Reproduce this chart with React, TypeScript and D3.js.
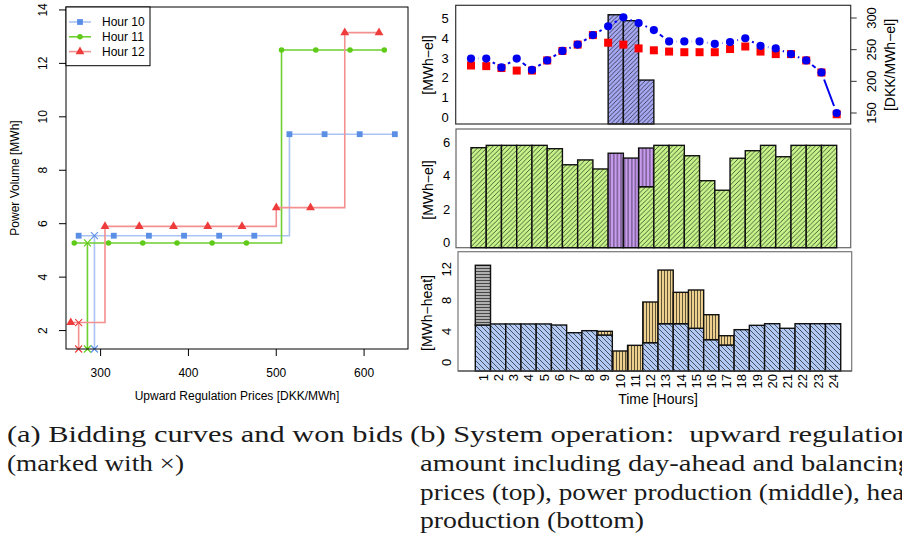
import React, { useEffect, useRef } from 'react';
import * as d3 from 'd3';

// ---------- (a) bidding curves: price [DKK/MWh] vs volume [MWh]
const bidNames = ['Hour 10', 'Hour 11', 'Hour 12'];
const bidColors = ['#5b8fe6', '#5fcb18', '#ee3b3b'];
const bidLineColors = ['#a9c4f4', '#6fd030', '#f49090'];
const h10Price = [275, 315, 355, 395, 435, 475, 515, 555, 595, 635];
const h10Volume = [5.55, 5.55, 5.55, 5.55, 5.55, 5.55, 9.35, 9.35, 9.35, 9.35];
const h11Price = [270, 309, 348, 387, 427, 466, 506, 545, 584, 623];
const h11Volume = [5.28, 5.28, 5.28, 5.28, 5.28, 5.28, 12.5, 12.5, 12.5, 12.5];
const h12Price = [266, 305, 344, 383, 422, 461, 500, 539, 578, 617];
const h12Volume = [2.3, 5.9, 5.9, 5.9, 5.9, 5.9, 6.6, 6.6, 13.15, 13.15];
const wonPrice = [293, 285, 275];
const wonVolume = [5.55, 5.28, 2.3];
const priceTicks = [300, 400, 500, 600];
const volumeTicks = [2, 4, 6, 8, 10, 12, 14];

// ---------- (b) system operation, hours 1..24
const hours = d3.range(1, 25);
// upward regulation amount [MWh-el]
const upReg = [0, 0, 0, 0, 0, 0, 0, 0, 0, 5.18, 4.88, 1.88, 0, 0, 0, 0, 0, 0, 0, 0, 0, 0, 0, 0];
// prices at hour boundaries 0..24 [DKK/MWh-el]
const balancingPrice = [236, 236, 222, 236, 218, 233, 248, 258, 273, 287, 301, 292, 281, 263, 263, 263, 259, 262, 268, 256, 252, 243, 233, 214, 150];
const dayAheadPrice = [225, 224, 221, 217, 217, 233, 248, 258, 273, 261, 258, 252, 249, 247, 246, 246, 246, 251, 255, 247, 243, 243, 233, 214, 148];
const topTicks = [0, 1, 2, 3, 4, 5];
const priceAxisTicks = [150, 200, 250, 300];
// power production [MWh-el]
const powerDayAhead = [5.66, 5.8, 5.8, 5.8, 5.8, 5.6, 4.64, 4.93, 4.39, 0, 0, 3.33, 5.8, 5.8, 5.18, 3.69, 3.12, 5.03, 5.48, 5.8, 5.12, 5.8, 5.8, 5.8];
const powerUpward = [0, 0, 0, 0, 0, 0, 0, 0, 0, 5.33, 5.04, 2.31, 0, 0, 0, 0, 0, 0, 0, 0, 0, 0, 0, 0];
const midTicks = [0, 2, 4, 6];
// heat production [MWh-heat]
const heatChp = [4.81, 4.95, 4.95, 4.95, 4.95, 4.81, 3.82, 4.08, 3.52, 0, 0, 2.53, 4.98, 4.98, 4.39, 2.92, 2.23, 4.21, 4.77, 4.98, 4.39, 4.98, 4.98, 4.98];
const heatBoiler = [0, 0, 0, 0, 0, 0, 0, 0, 0.48, 1.46, 2.19, 5.25, 6.92, 4.05, 4.94, 3.22, 1.2, 0, 0, 0, 0, 0, 0, 0];
const heatStorage = [7.71, 0, 0, 0, 0, 0, 0, 0, 0, 0, 0, 0, 0, 0, 0, 0, 0, 0, 0, 0, 0, 0, 0, 0];
const botTicks = [0, 4, 8, 12];

// ---------- captions
const captionA = ['(a) Bidding curves and won bids', '(marked with \u00d7)'];
const captionB = [
  '(b) System operation:  upward regulation',
  'amount including day-ahead and balancing',
  'prices (top), power production (middle), heat',
  'production (bottom)',
];

const SANS = "'Liberation Sans', Arial, sans-serif";
const SERIF = "'Liberation Serif', 'Times New Roman', serif";

const App: React.FC = () => {
  const svgRef = useRef<SVGSVGElement>(null);

  useEffect(() => {
    if (!svgRef.current) return;
    const svg = d3.select(svgRef.current);
    svg.selectAll('*').remove();

    // hatch patterns
    const defs = svg.append('defs');
    function pattern(id: string, bg: string, kind: string, s: number) {
      const p = defs.append('pattern').attr('id', id).attr('patternUnits', 'userSpaceOnUse')
        .attr('width', s).attr('height', s);
      p.append('rect').attr('width', s).attr('height', s).attr('fill', bg);
      let d = '';
      if (kind === 'fwd') d = `M0,${s}L${s},0M-1,1L1,-1M${s - 1},${s + 1}L${s + 1},${s - 1}`;
      if (kind === 'back') d = `M0,0L${s},${s}M-1,${s - 1}L1,${s + 1}M${s - 1},-1L${s + 1},1`;
      if (kind === 'vert') d = `M${s / 2},0V${s}`;
      if (kind === 'horiz') d = `M0,${s / 2}H${s}`;
      p.append('path').attr('d', d).attr('stroke', '#000').attr('stroke-width', 0.6);
    }
    pattern('pUp', '#a6a8f2', 'fwd', 4.4);
    pattern('pGreen', '#c6f48a', 'fwd', 4.6);
    pattern('pPurple', '#c99cf0', 'vert', 3.6);
    pattern('pBlue', '#b2c9f4', 'back', 5);
    pattern('pTan', '#edd08e', 'vert', 3);
    pattern('pGray', '#b0b0b0', 'horiz', 3);

    // ================= (a) bidding curves
    const gA = svg.append('g').attr('font-family', SANS);
    const xA = d3.scaleLinear().domain([260.6, 650]).range([66, 408]);
    const yA = d3.scaleLinear().domain([1.31, 14.11]).range([349, 7]);
    const [yBottomA] = yA.range();

    gA.selectAll('line.yt').data(volumeTicks).join('line')
      .attr('x1', 59).attr('x2', 66).attr('y1', d => yA(d)).attr('y2', d => yA(d)).attr('stroke', '#000');
    gA.selectAll('text.yt').data(volumeTicks).join('text')
      .attr('transform', d => `translate(47,${yA(d)}) rotate(-90)`)
      .attr('text-anchor', 'middle').attr('font-size', 12).text(d => d);
    gA.selectAll('line.xt').data(priceTicks).join('line')
      .attr('x1', d => xA(d)).attr('x2', d => xA(d)).attr('y1', 349).attr('y2', 356).attr('stroke', '#000');
    gA.selectAll('text.xt').data(priceTicks).join('text')
      .attr('x', d => xA(d)).attr('y', 377).attr('text-anchor', 'middle').attr('font-size', 12).text(d => d);
    gA.append('text').attr('x', 237).attr('y', 400).attr('text-anchor', 'middle').attr('font-size', 12)
      .text('Upward Regulation Prices [DKK/MWh]');
    gA.append('text').attr('transform', 'translate(19,178) rotate(-90)').attr('text-anchor', 'middle')
      .attr('font-size', 12).text('Power Volume [MWh]');

    const bids = [
      { price: h10Price, vol: h10Volume, sym: d3.symbolSquare, size: 34 },
      { price: h11Price, vol: h11Volume, sym: d3.symbolCircle, size: 24 },
      { price: h12Price, vol: h12Volume, sym: d3.symbolTriangle, size: 34 },
    ];
    const cross = 'M-3.5,-3.5L3.5,3.5M-3.5,3.5L3.5,-3.5';
    bids.forEach((s, i) => {
      const pts: [number, number][] = s.price.map((p, j) => [xA(p), yA(s.vol[j])]);
      gA.append('path').attr('d', d3.line().curve(d3.curveStepAfter)(pts))
        .attr('fill', 'none').attr('stroke', bidLineColors[i]).attr('stroke-width', 1.6);
      const wx = xA(wonPrice[i]);
      gA.append('line').attr('x1', wx).attr('x2', wx).attr('y1', yA(wonVolume[i])).attr('y2', yBottomA)
        .attr('stroke', bidLineColors[i]).attr('stroke-width', 1.6);
      gA.selectAll(null).data([yA(wonVolume[i]), yBottomA]).join('path')
        .attr('d', cross).attr('transform', d => `translate(${wx},${d})`)
        .attr('stroke', bidColors[i]).attr('stroke-width', 1.1).attr('fill', 'none');
      gA.selectAll(null).data(pts).join('path')
        .attr('d', d3.symbol(s.sym, s.size)())
        .attr('transform', d => `translate(${d[0]},${d[1]})`).attr('fill', bidColors[i]);
    });
    gA.append('rect').attr('x', 66).attr('y', 7).attr('width', 342).attr('height', 342)
      .attr('fill', 'none').attr('stroke', '#000');

    // legend
    const leg = gA.append('g');
    leg.append('rect').attr('x', 66).attr('y', 7).attr('width', 84).attr('height', 58.7)
      .attr('fill', '#fff').attr('stroke', '#000');
    bidNames.forEach((n, i) => {
      const ly = 22 + i * 14.8;
      leg.append('line').attr('x1', 69).attr('x2', 91).attr('y1', ly).attr('y2', ly)
        .attr('stroke', bidLineColors[i]).attr('stroke-width', 1.6);
      leg.append('path').attr('d', d3.symbol(bids[i].sym, bids[i].size)())
        .attr('transform', `translate(80,${ly})`).attr('fill', bidColors[i]);
      leg.append('text').attr('x', 102).attr('y', ly).attr('dy', '0.36em').attr('font-size', 12).text(n);
    });

    // ================= (b) system operation
    const gB = svg.append('g').attr('font-family', SANS);
    const xBand = d3.scaleBand<number>().domain(hours).range([471, 836.7]).padding(0);
    const xEdge = d3.scaleLinear().domain([0, 24]).range([471, 836.7]);
    const bw = xBand.bandwidth();

    // ---- top panel
    const topBox = { x0: 455.7, x1: 850.7, y0: 5.3, y1: 124 };
    const yTop = d3.scaleLinear().domain([0, 5]).range([117.3, 18.3]);
    const yPrice = d3.scaleLinear().domain([150, 300]).range([113, 18]);
    gB.selectAll(null).data(hours.filter((h, i) => upReg[i] > 0)).join('rect')
      .attr('x', h => xBand(h)!).attr('width', bw)
      .attr('y', h => yTop(upReg[h - 1])).attr('height', h => topBox.y1 - yTop(upReg[h - 1]))
      .attr('fill', 'url(#pUp)').attr('stroke', '#111').attr('stroke-width', 1.4);
    const bal: [number, number][] = balancingPrice.map((p, k) => [xEdge(k), yPrice(p)]);
    const gap = 7.5;
    for (let k = 0; k < bal.length - 1; k++) {
      const [ax, ay] = bal[k];
      const [bx, by] = bal[k + 1];
      const len = Math.hypot(bx - ax, by - ay);
      if (len <= 2 * gap) continue;
      const ux = (bx - ax) / len, uy = (by - ay) / len;
      gB.append('line').attr('x1', ax + ux * gap).attr('y1', ay + uy * gap)
        .attr('x2', bx - ux * gap).attr('y2', by - uy * gap)
        .attr('stroke', '#0000ee').attr('stroke-width', 2);
    }
    gB.selectAll(null).data(dayAheadPrice).join('rect')
      .attr('x', (p, k) => xEdge(k) - 4).attr('y', p => yPrice(p) - 4).attr('width', 8).attr('height', 8)
      .attr('fill', '#ff0000');
    gB.selectAll(null).data(bal).join('circle')
      .attr('cx', d => d[0]).attr('cy', d => d[1]).attr('r', 4.1).attr('fill', '#0000ee');
    gB.append('rect').attr('x', topBox.x0).attr('y', topBox.y0)
      .attr('width', topBox.x1 - topBox.x0).attr('height', topBox.y1 - topBox.y0)
      .attr('fill', 'none').attr('stroke', '#333').attr('stroke-width', 1.2);
    gB.selectAll(null).data(topTicks).join('text')
      .attr('x', 445).attr('y', d => yTop(d)).attr('dy', '0.36em').attr('text-anchor', 'middle')
      .attr('font-size', 13).text(d => d);
    gB.append('text').attr('transform', 'translate(433,65) rotate(-90)').attr('text-anchor', 'middle')
      .attr('font-size', 14).text('[MWh\u2212el]');
    gB.selectAll(null).data(priceAxisTicks).join('line')
      .attr('x1', topBox.x1).attr('x2', topBox.x1 + 6).attr('y1', d => yPrice(d)).attr('y2', d => yPrice(d))
      .attr('stroke', '#333');
    gB.selectAll(null).data(priceAxisTicks).join('text')
      .attr('transform', d => `translate(876,${yPrice(d)}) rotate(-90)`).attr('text-anchor', 'middle')
      .attr('font-size', 13).text(d => d);
    gB.append('text').attr('transform', 'translate(895,65) rotate(-90)').attr('text-anchor', 'middle')
      .attr('font-size', 14).text('[DKK/MWh\u2212el]');

    // ---- middle panel
    const midBox = { x0: 456, x1: 850.7, y0: 129, y1: 247.7 };
    const yMid = d3.scaleLinear().domain([0, 6]).range([242.5, 142]);
    const yMidB = (v: number) => (v <= 0 ? midBox.y1 : yMid(v));
    gB.append('rect').attr('x', midBox.x0).attr('y', midBox.y0)
      .attr('width', midBox.x1 - midBox.x0).attr('height', midBox.y1 - midBox.y0)
      .attr('fill', '#fff').attr('stroke', '#666').attr('stroke-width', 1.2);
    hours.forEach((h, i) => {
      const x = xBand(h)!;
      if (powerDayAhead[i] > 0) {
        gB.append('rect').attr('x', x).attr('width', bw).attr('y', yMid(powerDayAhead[i]))
          .attr('height', midBox.y1 - yMid(powerDayAhead[i]))
          .attr('fill', 'url(#pGreen)').attr('stroke', '#111').attr('stroke-width', 1.4);
      }
      if (powerUpward[i] > 0) {
        const base = yMidB(powerDayAhead[i]);
        const top = yMid(powerDayAhead[i] + powerUpward[i]);
        gB.append('rect').attr('x', x).attr('width', bw).attr('y', top).attr('height', base - top)
          .attr('fill', 'url(#pPurple)').attr('stroke', '#111').attr('stroke-width', 1.4);
      }
    });
    gB.selectAll(null).data(midTicks).join('text')
      .attr('x', 446.5).attr('y', d => yMid(d)).attr('dy', '0.36em').attr('text-anchor', 'middle')
      .attr('font-size', 13).text(d => d);
    gB.append('text').attr('transform', 'translate(433,190) rotate(-90)').attr('text-anchor', 'middle')
      .attr('font-size', 14).text('[MWh\u2212el]');

    // ---- bottom panel
    const botBox = { x0: 458, x1: 851.7, y0: 251.7, y1: 371 };
    const xBot = d3.scaleBand<number>().domain(hours).range([475.3, 840.7]).padding(0);
    const yBot = d3.scaleLinear().domain([0, 12]).range([362.3, 269.3]);
    const yBotB = (v: number) => (v <= 0 ? botBox.y1 : yBot(v));
    gB.append('rect').attr('x', botBox.x0).attr('y', botBox.y0)
      .attr('width', botBox.x1 - botBox.x0).attr('height', botBox.y1 - botBox.y0)
      .attr('fill', '#fff').attr('stroke', '#777').attr('stroke-width', 1.2);
    const heatLayers = [
      { vals: heatChp, fill: 'url(#pBlue)' },
      { vals: heatBoiler, fill: 'url(#pTan)' },
      { vals: heatStorage, fill: 'url(#pGray)' },
    ];
    hours.forEach((h, i) => {
      let cum = 0;
      heatLayers.forEach(layer => {
        const v = layer.vals[i];
        if (v <= 0) return;
        const base = yBotB(cum);
        const top = yBot(cum + v);
        gB.append('rect').attr('x', xBot(h)!).attr('width', xBot.bandwidth()).attr('y', top)
          .attr('height', base - top).attr('fill', layer.fill).attr('stroke', '#111').attr('stroke-width', 1.4);
        cum += v;
      });
    });
    gB.append('line').attr('x1', botBox.x0).attr('x2', botBox.x1).attr('y1', botBox.y1).attr('y2', botBox.y1)
      .attr('stroke', '#444').attr('stroke-width', 1.2);
    gB.selectAll(null).data(botTicks).join('text')
      .attr('transform', d => `translate(446.7,${yBot(d)}) rotate(-90)`).attr('dy', '0.36em')
      .attr('text-anchor', 'middle').attr('font-size', 13).text(d => d);
    gB.append('text').attr('transform', 'translate(432,313) rotate(-90)').attr('text-anchor', 'middle')
      .attr('font-size', 14).text('[MWh\u2212heat]');
    gB.selectAll(null).data(hours).join('text')
      .attr('transform', h => `translate(${xBot(h)! + xBot.bandwidth() / 2},374) rotate(-90)`)
      .attr('dy', '0.36em').attr('text-anchor', 'end').attr('font-size', 13).text(h => h);
    gB.append('text').attr('x', 658).attr('y', 404).attr('text-anchor', 'middle').attr('font-size', 14)
      .text('Time [Hours]');

    // ================= captions
    const cap = svg.append('g').attr('font-family', SERIF).attr('font-size', 24).attr('fill', '#1a1a1a');
    const capLines = [
      { text: captionA[0], x: 7, y: 442, w: 396 },
      { text: captionA[1], x: 7, y: 471, w: 177 },
      { text: captionB[0], x: 410, y: 442, w: 502 },
      { text: captionB[1], x: 420, y: 471, w: 492 },
      { text: captionB[2], x: 420, y: 499.5, w: 492 },
      { text: captionB[3], x: 420, y: 528, w: 224 },
    ];
    cap.selectAll('text').data(capLines).join('text')
      .attr('x', d => d.x).attr('y', d => d.y)
      .attr('textLength', d => d.w).attr('lengthAdjust', 'spacingAndGlyphs')
      .style('white-space', 'pre').text(d => d.text);
  }, []);

  return (
    <svg
      ref={svgRef}
      width={902}
      height={538}
      style={{ position: 'absolute', left: 0, top: 0, background: '#fff' }}
    />
  );
};

export default App;
